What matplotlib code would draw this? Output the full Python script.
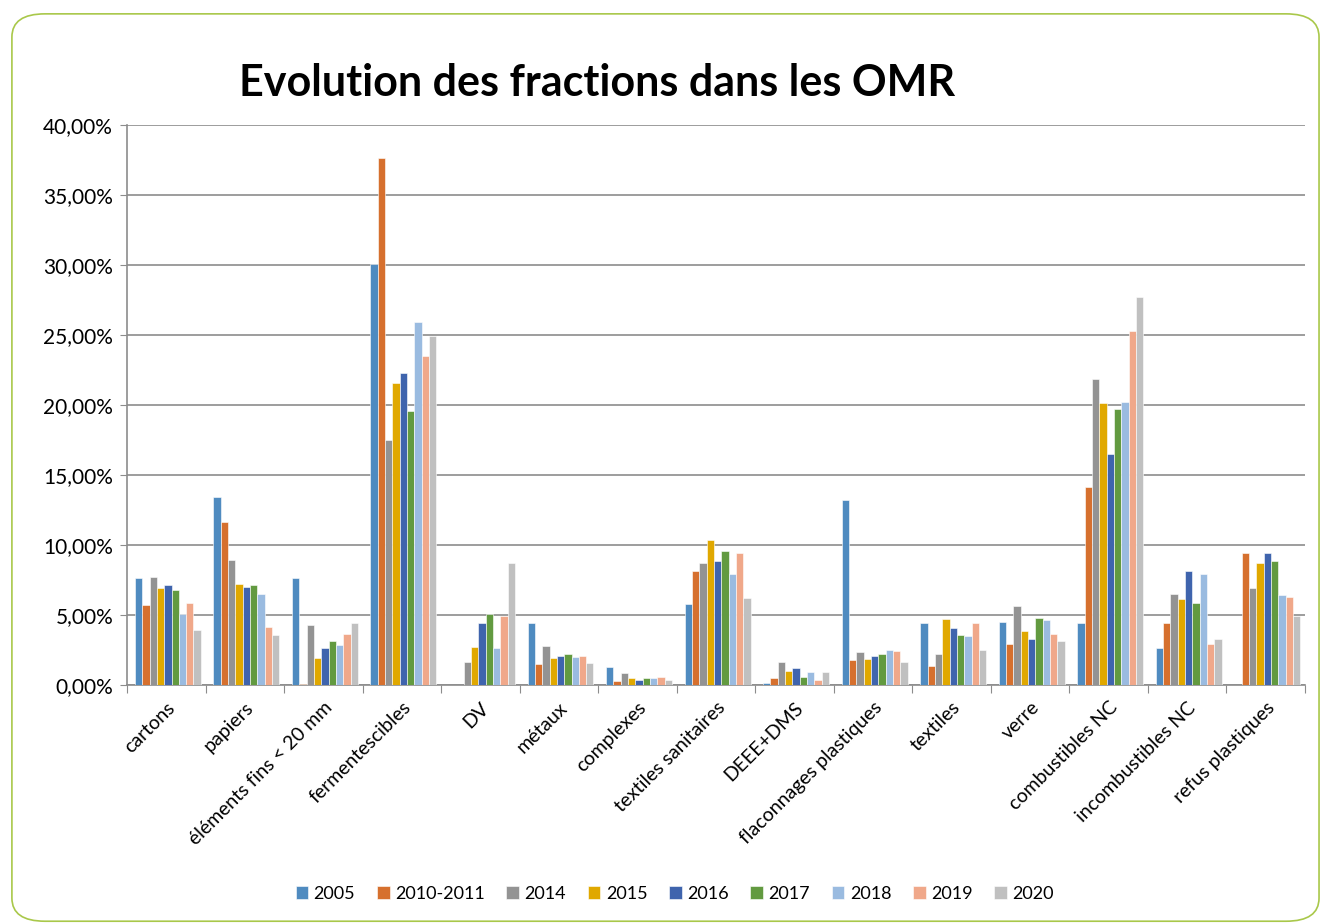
import numpy as np
import matplotlib
matplotlib.use("Agg")
import matplotlib.pyplot as plt
from matplotlib.patches import FancyBboxPatch

plt.rcParams['font.family'] = ['Lato', 'DejaVu Sans']

# ── Data ──────────────────────────────────
categories = ["cartons", "papiers", "éléments fins < 20 mm", "fermentescibles", "DV",
              "métaux", "complexes", "textiles sanitaires", "DEEE+DMS",
              "flaconnages plastiques", "textiles", "verre", "combustibles NC",
              "incombustibles NC", "refus plastiques"]
years = ["2005", "2010-2011", "2014", "2015", "2016", "2017", "2018", "2019", "2020"]

v2005 = [7.67, 13.43, 7.62, 30.1, 0.0, 4.45, 1.29, 5.79, 0.12, 13.19, 4.40, 4.48, 4.40, 2.67, 0.0]
v2010 = [5.69, 11.64, 0.07, 37.65, 0.0, 1.52, 0.26, 8.14, 0.52, 1.79, 1.38, 2.90, 14.14, 4.43, 9.43]
v2014 = [7.69, 8.90, 4.31, 17.5, 1.67, 2.79, 0.83, 8.69, 1.64, 2.36, 2.19, 5.64, 21.86, 6.50, 6.93]
v2015 = [6.95, 7.21, 1.93, 21.6, 2.74, 1.95, 0.48, 10.35, 0.98, 1.86, 4.69, 3.83, 20.12, 6.17, 8.69]
v2016 = [7.14, 7.00, 2.67, 22.3, 4.43, 2.10, 0.36, 8.88, 1.19, 2.07, 4.05, 3.29, 16.50, 8.17, 9.40]
v2017 = [6.79, 7.12, 3.14, 19.55, 5.10, 2.24, 0.50, 9.57, 0.60, 2.21, 3.57, 4.79, 19.71, 5.86, 8.83]
v2018 = [5.10, 6.50, 2.83, 25.9, 2.64, 2.00, 0.50, 7.95, 0.93, 2.50, 3.52, 4.62, 20.19, 7.93, 6.45]
v2019 = [5.88, 4.14, 3.62, 23.5, 4.90, 2.10, 0.55, 9.40, 0.36, 2.43, 4.43, 3.62, 25.31, 2.95, 6.31]
v2020 = [3.93, 3.55, 4.40, 24.9, 8.74, 1.57, 0.33, 6.24, 0.93, 1.64, 2.48, 3.12, 27.71, 3.29, 4.95]
series = [v2005, v2010, v2014, v2015, v2016, v2017, v2018, v2019, v2020]

colors = ["#4F8BC0", "#D6702E", "#939393", "#E0A800", "#3F64AD",
          "#629A40", "#9ABBE0", "#F0A88A", "#C0C0C0"]

# ── Figure ────────────────────────────────
fig = plt.figure(figsize=(13.23, 9.24), dpi=100, facecolor="white")
border = FancyBboxPatch((0.009, 0.003), 0.988, 0.982, boxstyle="round,pad=0,rounding_size=0.025",
                        transform=fig.transFigure, facecolor="none",
                        edgecolor="#A9C84A", linewidth=1.2)
fig.patches.append(border)

ax = fig.add_axes([0.096, 0.2587, 0.8904, 0.606])

n = len(series)
w = 0.84 / n
x = np.arange(len(categories))
for i, (vals, col, yr) in enumerate(zip(series, colors, years)):
    ax.bar(x - 0.40 + w * (i + 0.5), vals, w, color=col, label=yr,
           edgecolor="white", linewidth=0.4, zorder=3)

ax.set_xlim(-0.5, len(categories) - 0.5)
ax.set_ylim(0, 40)
ax.set_yticks(np.arange(0, 41, 5))
ax.set_yticklabels([f"{t:.2f}%".replace(".", ",") for t in np.arange(0, 41, 5)], fontsize=15)
ax.yaxis.grid(True, color="#8C8C8C", linewidth=1.2, zorder=0)
ax.tick_params(axis="y", length=5, color="#8C8C8C", pad=5)

# category ticks on boundaries, labels at centres
ax.set_xticks(np.arange(-0.5, len(categories), 1.0))
ax.set_xticklabels([])
ax.set_xticks(x, minor=True)
ax.set_xticklabels(categories, minor=True, rotation=45, ha="right",
                   rotation_mode="anchor", fontsize=14)
ax.tick_params(axis="x", which="major", length=6, color="#8C8C8C")
ax.tick_params(axis="x", which="minor", length=0, pad=10)

for s in ["top", "right"]:
    ax.spines[s].set_visible(False)
ax.spines["left"].set_color("#8C8C8C")
ax.spines["bottom"].set_color("#8C8C8C")
ax.spines["left"].set_linewidth(1.2)
ax.spines["bottom"].set_linewidth(1.2)

fig.text(0.451, 0.91, "Evolution des fractions dans les OMR", ha="center", va="center",
         fontsize=31, fontweight="bold")

fig.legend(loc="center", bbox_to_anchor=(0.51, 0.033), ncol=9, frameon=False,
           fontsize=13, handlelength=0.7, handleheight=0.7, handletextpad=0.3,
           columnspacing=1.2)

fig.savefig("out.png", dpi=100, facecolor="white")
